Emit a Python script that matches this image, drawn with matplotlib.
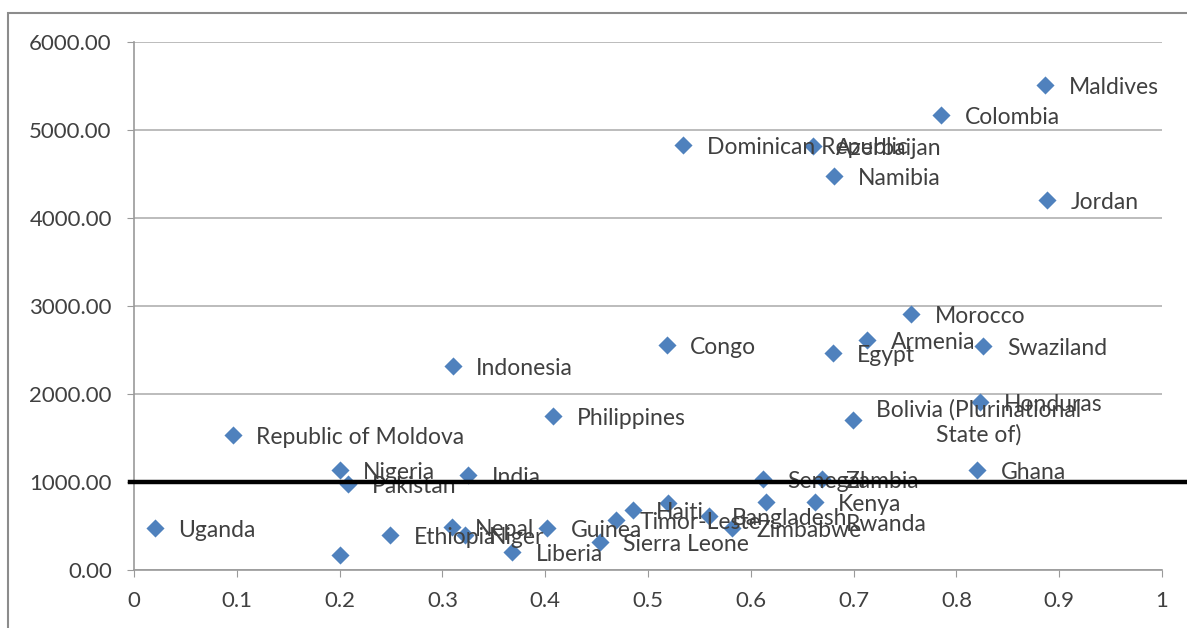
import matplotlib.pyplot as plt
from matplotlib.patches import Rectangle

plt.rcParams['font.family'] = ['Lato', 'DejaVu Sans']

countries = ["Maldives", "Colombia", "Dominican Republic", "Azerbaijan", "Namibia", "Jordan",
             "Morocco", "Armenia", "Swaziland", "Egypt", "Congo", "Indonesia", "Philippines",
             "Bolivia (Plurinational\nState of)", "Honduras", "Ghana", "Republic of Moldova",
             "Nigeria", "Pakistan", "India", "Senegal", "Zambia", "Rwanda", "Kenya",
             "Bangladesh", "Zimbabwe", "Timor-Leste", "Haiti", "", "Sierra Leone", "Guinea",
             "Liberia", "Nepal", "Niger", "Ethiopia", "Uganda", ""]
x_vals = [0.886, 0.785, 0.534, 0.660, 0.681, 0.888,
          0.756, 0.713, 0.826, 0.680, 0.518, 0.310, 0.408,
          0.699, 0.823, 0.820, 0.096,
          0.200, 0.208, 0.325, 0.612, 0.669, 0.615, 0.662,
          0.559, 0.582, 0.469, 0.485, 0.519, 0.453, 0.402,
          0.368, 0.309, 0.322, 0.249, 0.020, 0.200]
y_vals = [5511, 5170, 4830, 4820, 4477, 4205,
          2909, 2614, 2545, 2466, 2557, 2318, 1750,
          1705, 1909, 1136, 1534,
          1136, 977, 1080, 1034, 1034, 773, 773,
          614, 477, 568, 682, 761, 318, 477,
          205, 489, 398, 398, 477, 170]
threshold = 1000

x_ticks = [0, 0.1, 0.2, 0.3, 0.4, 0.5, 0.6, 0.7, 0.8, 0.9, 1]
x_ticklabels = ["0", "0.1", "0.2", "0.3", "0.4", "0.5", "0.6", "0.7", "0.8", "0.9", "1"]
y_ticks = [0, 1000, 2000, 3000, 4000, 5000, 6000]

# labels that were shifted in the original
label_offsets = {"Rwanda": (57, -16)}

fig = plt.figure(figsize=(11.87, 6.28), dpi=100)
ax = fig.add_axes([0.1129, 0.0924, 0.8661, 0.8407])

ax.scatter(x_vals, y_vals, marker='D', s=85, color='#4F81BD', zorder=3, linewidths=0)

for name, x, y in zip(countries, x_vals, y_vals):
    if not name:
        continue
    off = label_offsets.get(name, (17, -2))
    ax.annotate(name, (x, y), xytext=off, textcoords='offset points',
                ha='left', va='center', multialignment='center',
                fontsize=16.5, color='#404040', zorder=4)

ax.axhline(threshold, xmin=-0.004, xmax=1.03, color='black', linewidth=3.2,
           clip_on=False, zorder=5)

ax.set_xlim(0, 1)
ax.set_ylim(0, 6000)
ax.set_xticks(x_ticks)
ax.set_xticklabels(x_ticklabels)
ax.set_yticks(y_ticks)
ax.set_yticklabels([f"{v:.2f}" for v in y_ticks])
ax.yaxis.grid(True, color='#B0B0B0', linewidth=1.2)
ax.set_axisbelow(True)
for side in ['top', 'right']:
    ax.spines[side].set_visible(False)
ax.spines['left'].set_color('#9A9A9A')
ax.spines['bottom'].set_color('#9A9A9A')
ax.spines['left'].set_linewidth(1.2)
ax.spines['bottom'].set_linewidth(1.2)
ax.tick_params(axis='both', direction='out', length=5, color='#9A9A9A',
               labelsize=16, labelcolor='#404040')
ax.tick_params(axis='x', pad=10)
ax.tick_params(axis='y', pad=11)

fig.patches.append(Rectangle((8 / 1187, -0.05), 1.1, 1.05 - 13 / 628,
                             transform=fig.transFigure, fill=False,
                             edgecolor='#8C8C8C', linewidth=1.5))

fig.savefig('out.png', dpi=100)
